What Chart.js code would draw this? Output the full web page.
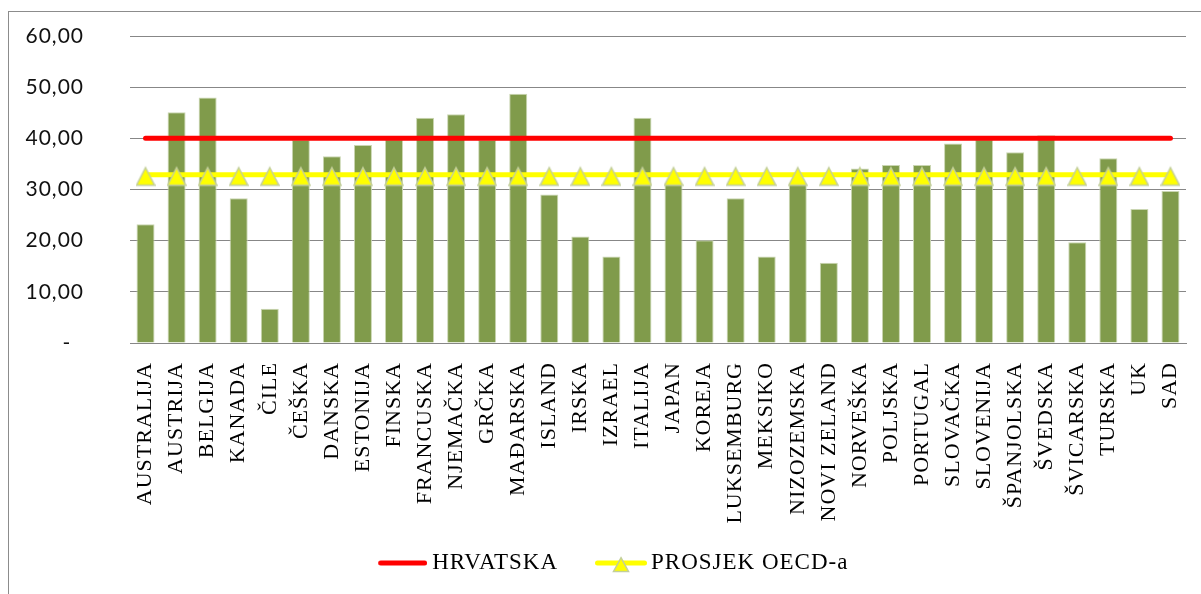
<!DOCTYPE html>
<html><head><meta charset="utf-8">
<style>html,body{margin:0;padding:0;background:#fff;overflow:hidden}</style>
<script src="https://cdn.jsdelivr.net/npm/chart.js@4/dist/chart.umd.min.js"></script>
</head><body>
<canvas id="c" width="1201" height="594"></canvas>
<script>
const categories = ['AUSTRALIJA','AUSTRIJA','BELGIJA','KANADA','ČILE','ČEŠKA','DANSKA','ESTONIJA','FINSKA','FRANCUSKA','NJEMAČKA','GRČKA','MAĐARSKA','ISLAND','IRSKA','IZRAEL','ITALIJA','JAPAN','KOREJA','LUKSEMBURG','MEKSIKO','NIZOZEMSKA','NOVI ZELAND','NORVEŠKA','POLJSKA','PORTUGAL','SLOVAČKA','SLOVENIJA','ŠPANJOLSKA','ŠVEDSKA','ŠVICARSKA','TURSKA','UK','SAD'];
const countryValues = [23.2,45.1,48.0,28.3,6.7,39.7,36.5,38.7,39.8,44.0,44.7,39.7,48.7,29.0,20.8,16.9,44.0,31.2,20.1,28.3,16.9,31.2,15.7,34.1,34.8,34.8,39.0,39.8,37.3,40.6,19.7,36.1,26.2,29.7];
const hrvatskaValues = [40,40,40,40,40,40,40,40,40,40,40,40,40,40,40,40,40,40,40,40,40,40,40,40,40,40,40,40,40,40,40,40,40,40];
const oecdValues = [32.9,32.9,32.9,32.9,32.9,32.9,32.9,32.9,32.9,32.9,32.9,32.9,32.9,32.9,32.9,32.9,32.9,32.9,32.9,32.9,32.9,32.9,32.9,32.9,32.9,32.9,32.9,32.9,32.9,32.9,32.9,32.9,32.9,32.9];
const seriesNames = ['HRVATSKA','PROSJEK OECD-a'];
const yTicks = [0,10,20,30,40,50,60];

function mk(w,h,fn){const c=document.createElement('canvas');c.width=w;c.height=h;fn(c.getContext('2d'));return c;}
function tri(ctx,cx,top,base,hw){ctx.beginPath();ctx.moveTo(cx,top);ctx.lineTo(cx+hw,base);ctx.lineTo(cx-hw,base);ctx.closePath();ctx.fillStyle='#FFFF00';ctx.fill();ctx.strokeStyle='#c3cf9b';ctx.lineWidth=1.5;ctx.stroke();}
const triPoint = mk(20,24,ctx=>tri(ctx,10,5,22.5,9));
const legRed = mk(76,8,ctx=>{ctx.strokeStyle='#FF0000';ctx.lineWidth=5;ctx.lineCap='round';ctx.beginPath();ctx.moveTo(29.5,4);ctx.lineTo(73.5,4);ctx.stroke();});
const legYellow = mk(78,22,ctx=>{ctx.strokeStyle='#FFFF00';ctx.lineWidth=5;ctx.lineCap='round';ctx.beginPath();ctx.moveTo(28.5,11);ctx.lineTo(75.5,11);ctx.stroke();tri(ctx,52,5.7,19.4,7.5);});
const legendImgs=[legRed,legYellow];

const framePlugin={id:'frame',
 beforeLayout(chart){chart.ctx.letterSpacing='1px';},
 beforeDraw(chart){const ctx=chart.ctx;ctx.letterSpacing='1px';ctx.save();ctx.strokeStyle='#8c8c8c';ctx.lineWidth=1;ctx.strokeRect(8.5,11.5,1400,800);ctx.restore();},
 afterLayout(chart){ if(chart.legend){chart.legend.left+=10;chart.legend.right+=10;} }};

new Chart(document.getElementById('c'),{
 data:{labels:categories,datasets:[
  {type:'line',label:seriesNames[0],data:hrvatskaValues,borderColor:'#FF0000',backgroundColor:'#FF0000',borderWidth:5,borderCapStyle:'round',pointRadius:0,order:0},
  {type:'line',label:seriesNames[1],data:oecdValues,borderColor:'#FFFF00',backgroundColor:'#FFFF00',borderWidth:5,pointStyle:triPoint,pointRadius:9,order:1},
  {type:'bar',label:'',data:countryValues,backgroundColor:'#809B4B',borderColor:'#cad6b2',borderWidth:1,barPercentage:0.58,categoryPercentage:1,order:2}
 ]},
 options:{responsive:false,animation:false,devicePixelRatio:1,
  layout:{padding:{left:0,right:15,top:36,bottom:9.5}},
  scales:{
   x:{grid:{display:false,drawTicks:false},border:{display:true,color:'#878787',width:1},
      ticks:{autoSkip:false,minRotation:90,maxRotation:90,padding:19,color:'#000',font:{family:'"Liberation Serif", serif',size:22}},
      afterFit(s){s.height=190;s.paddingRight=0;s.paddingLeft=0;}},
   y:{min:0,max:60,grid:{color:'#878787',lineWidth:1,drawTicks:false},border:{display:false},
      afterBuildTicks(s){s.ticks=yTicks.map(v=>({value:v}));},
      ticks:{padding:46,color:'#111',font:{family:'Lato, "Open Sans", sans-serif',size:21},
        callback:v=>v===0?'-  ':v.toFixed(2).replace('.',',')},
      afterFit(s){s.width=130;s.paddingTop=12;s.paddingBottom=12;}}
  },
  plugins:{tooltip:{enabled:false},
   legend:{position:'bottom',labels:{usePointStyle:true,pointStyleWidth:63,padding:18.5,color:'#000',font:{family:'"Liberation Serif", serif',size:23},
     generateLabels(chart){const items=Chart.defaults.plugins.legend.labels.generateLabels(chart);return items.filter(i=>i.datasetIndex<2).map(i=>{i.pointStyle=legendImgs[i.datasetIndex];return i;});}}}}
 },
 plugins:[framePlugin]
});
</script>
</body></html>
